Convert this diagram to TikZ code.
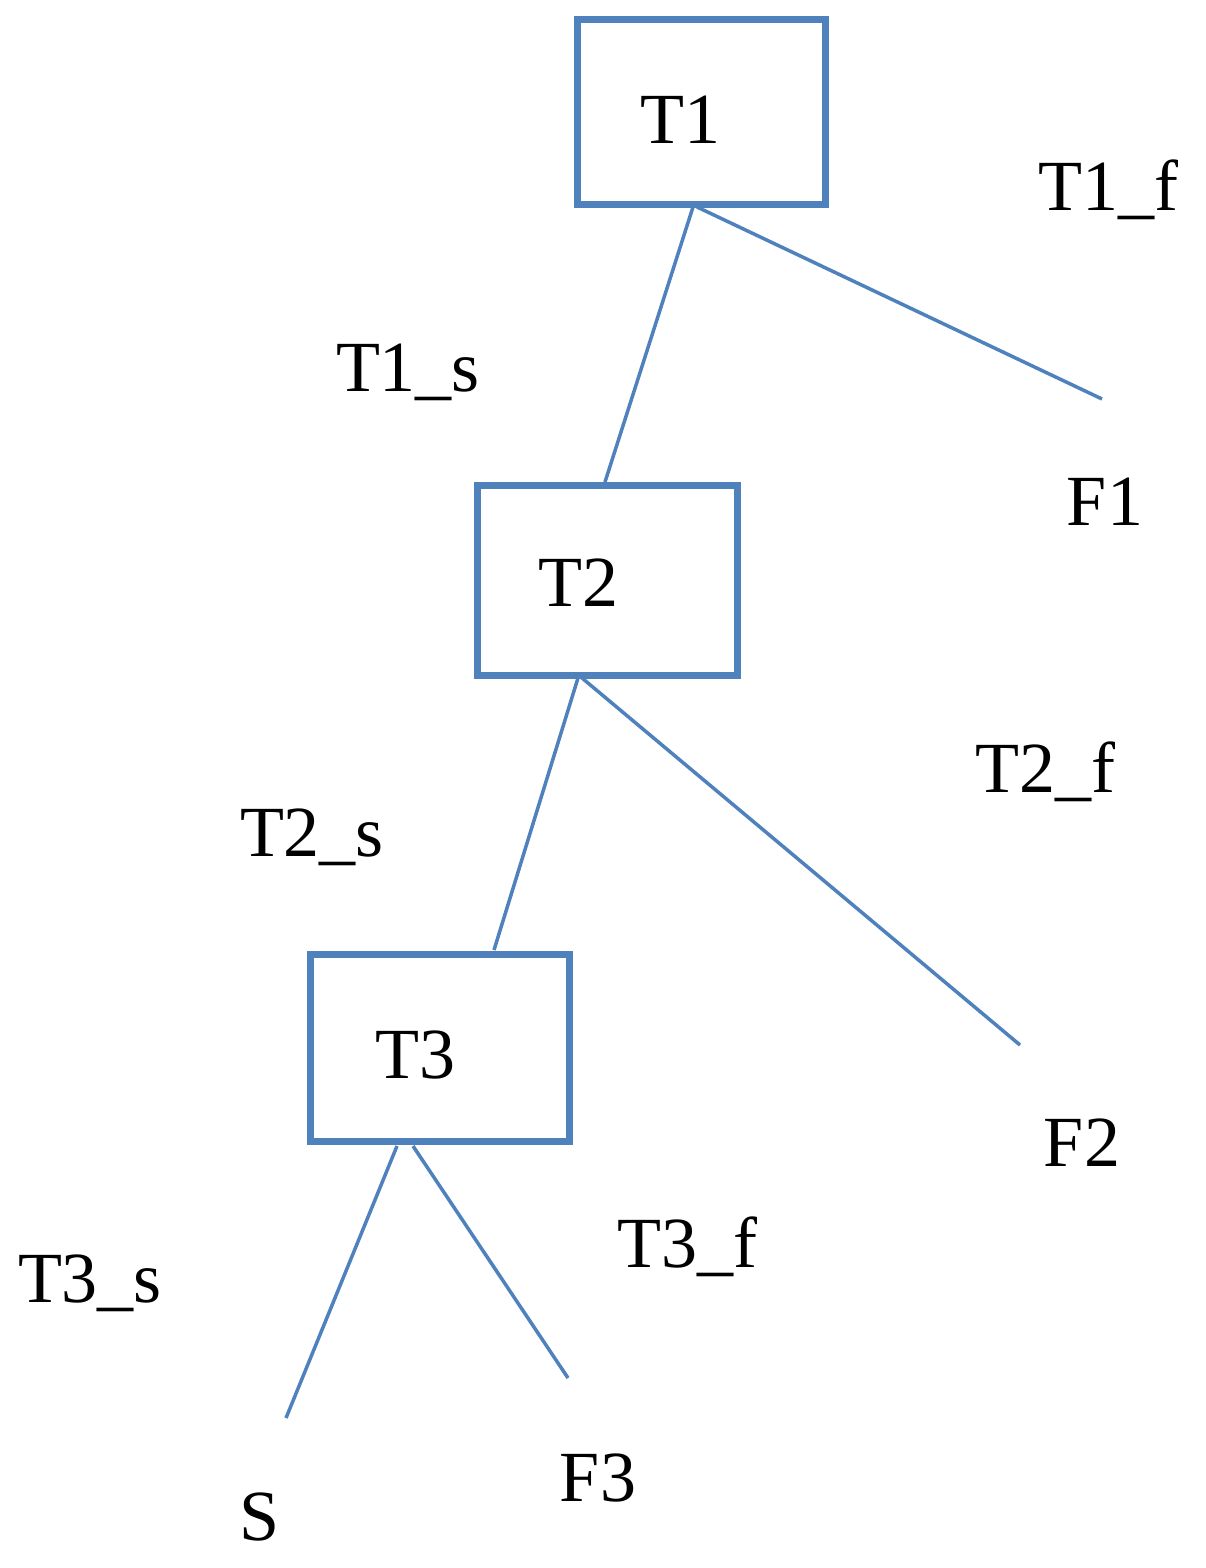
\documentclass[tikz,border=0pt]{standalone}
\usepackage{fontspec}
\setmainfont{Liberation Serif}
\begin{document}
\begin{tikzpicture}[x=1pt,y=-1pt,
  box/.style={draw=bl,line width=7pt,minimum width=#1,inner sep=0pt},
  lab/.style={font=\fontsize{72}{72}\selectfont,inner sep=0pt,anchor=center},
  ln/.style={draw=bl,line width=3.5pt}]
\definecolor{bl}{RGB}{79,129,189}
\useasboundingbox (0,0) rectangle (1205,1568);
\node[box=248pt,minimum height=184pt] (b1) at (701,112) {};
\node[box=260pt,minimum height=190pt] (b2) at (607,580) {};
\node[box=259pt,minimum height=187pt] (b3) at (440,1048) {};
\node[lab] at (680,120) {T1};
\node[lab] at (578,583) {T2};
\node[lab] at (415,1055) {T3};
\node[lab] (l1f) at (1108,190) {T1\_f};
\node[lab] (l1s) at (408,372) {T1\_s};
\node[lab] (f1) at (1105,502) {F1};
\node[lab] (l2f) at (1045,772) {T2\_f};
\node[lab] (l2s) at (312,837) {T2\_s};
\node[lab] (f2) at (1082,1143) {F2};
\node[lab] (l3f) at (687,1247) {T3\_f};
\node[lab] (l3s) at (90,1283) {T3\_s};
\node[lab] (s) at (260,1517) {S};
\node[lab] (f3) at (598,1478) {F3};
\coordinate (a1) at (693,207); \coordinate (a2) at (697,207);
\coordinate (c1) at (1102,399); \coordinate (c2) at (605,482);
\coordinate (d1) at (578,678); \coordinate (d2) at (582,678);
\coordinate (e1) at (494,950); \coordinate (e2) at (1020,1045);
\coordinate (g1) at (397,1146); \coordinate (g2) at (413,1146);
\coordinate (h1) at (286,1418); \coordinate (h2) at (568,1378);
\draw[ln] (a1) -- (c2); \draw[ln] (a2) -- (c1);
\draw[ln] (d1) -- (e1); \draw[ln] (d2) -- (e2);
\draw[ln] (g1) -- (h1); \draw[ln] (g2) -- (h2);
\end{tikzpicture}
\end{document}
